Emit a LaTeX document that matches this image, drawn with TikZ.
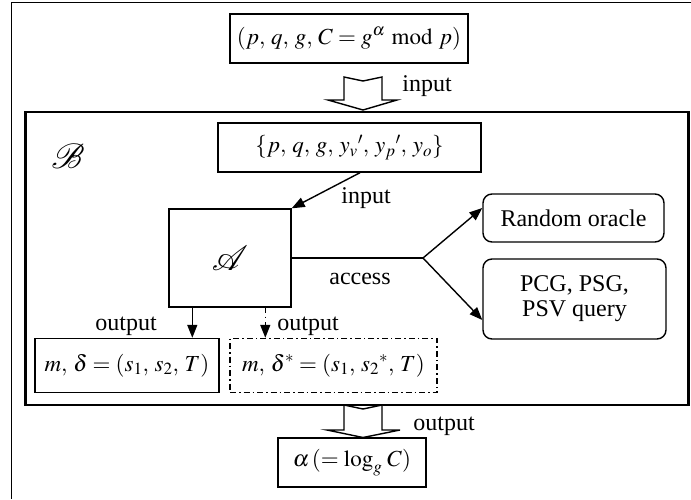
\documentclass[tikz,border=0pt]{standalone}
\usepackage{mathptmx}
\usepackage{fontspec}
\setmainfont{Liberation Serif}
\usetikzlibrary{arrows.meta,calc}

\begin{document}
\begin{tikzpicture}[x=1pt,y=-1pt,
  every node/.style={font=\fontsize{24}{28}\selectfont, inner sep=0pt},
  box/.style={draw, line width=1.4pt, rectangle},
  mbox/.style={box, font=\fontsize{23}{27}\selectfont},
  rbox/.style={draw, line width=1.4pt, rectangle, rounded corners=9pt, align=center},
  dbox/.style={mbox, dash pattern=on 6pt off 3pt on 1.5pt off 3pt},
  lbl/.style={},
  link/.style={line width=1.4pt},
  arr/.style={line width=1.4pt, -{Triangle[length=13pt,width=10pt]}},
  darr/.style={arr, dash pattern=on 5pt off 4pt on 1.5pt off 4pt},
  blockarrow/.style={line width=1.4pt, fill=white, line join=miter},
  cal/.style={font=\fontsize{35}{37}\selectfont}
]
\useasboundingbox (0,0) rectangle (691,499);

% page frame
\draw[line width=1.2pt] (691,2.3) -- (11.7,2.3) -- (11.7,499);

% outer reduction box
\draw[line width=2.8pt] (25.3,112) rectangle (688.3,405);

% given instance
\node[mbox, minimum width=238pt, minimum height=49pt] (inst) at (349,38.5)
  {$(p{,}\ q{,}\ g{,}\ C = g^{\alpha} \bmod p)$};
\node[lbl] (in1) at (427,86) {input};
\draw[blockarrow] (344,77) -- (363,81) -- (382,77) -- (382,100) -- (397,100)
  -- (363,110) -- (328,100) -- (344,100) -- cycle;

\node[cal] (B) at (68,156) {$\mathcal{B}$};

% parameters handed to the adversary
\node[mbox, minimum width=263pt, minimum height=49pt] (par) at (349.5,147.5)
  {$\{p{,}\ q{,}\ g{,}\ y_v{}'{,}\ y_p{}'{,}\ y_o\}$};

% adversary
\node[box, cal, minimum width=122pt, minimum height=98pt] (A) at (230,258) {$\mathcal{A}$};
\draw[arr] ($(par.south)+(10.5,0)$) -- (A.north east);
\node[lbl] (in2) at (366,198) {input};

% oracles
\node[rbox, minimum width=181pt, minimum height=48pt] (ro) at (573.5,218) {Random oracle};
\node[rbox, minimum width=183pt, minimum height=80pt] (pcg) at (574.5,299)
  {PCG, PSG,\\[-3pt]PSV query};
\coordinate (br) at (423,258);
\draw[link] (A.east) -- (br);
\draw[arr] (br) -- ($(ro.west)+(0,-10)$);
\draw[arr] (br) -- ($(pcg.west)+(0,21)$);
\node[lbl] (acc) at (360,279) {access};

% outputs of the adversary
\node[mbox, minimum width=184pt, minimum height=54pt] (o1) at (127,365.5)
  {$m{,}\ \delta = (s_1{,}\ s_2{,}\ T)$};
\node[dbox, minimum width=207pt, minimum height=54pt] (o2) at (333.5,365.5)
  {$m{,}\ \delta^{*} = (s_1{,}\ s_2{}^{*}{,}\ T)$};
\draw[arr] ($(A.south west)+(24,0)$) coordinate (s1) -- (s1 |- o1.north);
\draw[darr] ($(A.south west)+(97,0)$) coordinate (s2) -- (s2 |- o2.north);
\node[lbl] (out1) at (126,326) {output};
\node[lbl] (out2) at (308,326) {output};

% solution
\draw[blockarrow] (344,405) -- (363,409) -- (382,405) -- (382,430) -- (400,430)
  -- (363,437.5) -- (327,430) -- (344,430) -- cycle;
\node[lbl] (out3) at (444,426) {output};
\node[mbox, minimum width=148pt, minimum height=49pt] (sol) at (352,462.5)
  {$\alpha\,(= \log_g\, C)$};
\end{tikzpicture}
\end{document}
